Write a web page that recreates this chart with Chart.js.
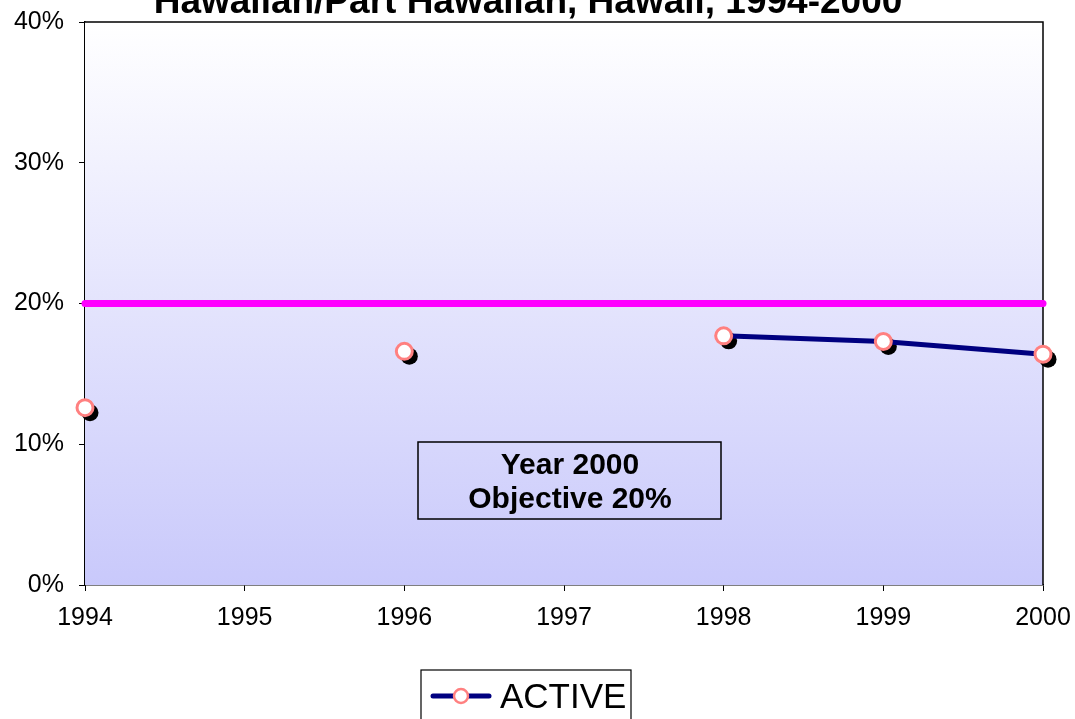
<!DOCTYPE html>
<html lang="en">
<head>
  <meta charset="UTF-8">
  <title>Hawaiian/Part Hawaiian, Hawaii, 1994-2000</title>
  <script src="https://cdn.jsdelivr.net/npm/chart.js"></script>
  <style>
    html, body { margin: 0; padding: 0; background: #fff; }
    #wrap { width: 1075px; height: 719px; }
  </style>
</head>
<body>
  <div id="wrap"><canvas id="chart" width="1075" height="719"></canvas></div>

  <script>
    // data
    const years = ['1994', '1995', '1996', '1997', '1998', '1999', '2000'];
    const active = [12.6, null, 16.6, null, 17.7, 17.3, 16.4];
    const objective = [20, 20, 20, 20, 20, 20, 20];
    const titleText = 'Hawaiian/Part Hawaiian, Hawaii, 1994-2000';
    const noteLines = ['Year 2000', 'Objective 20%'];
    const legendLabel = 'ACTIVE';

    const FONT = 'Arial, "Liberation Sans", sans-serif';

    // gradient plot background + top/right border
    const plotBg = {
      id: 'plotBg',
      beforeDatasetsDraw(chart) {
        const { ctx, chartArea: a } = chart;
        const g = ctx.createLinearGradient(0, a.top, 0, a.bottom);
        g.addColorStop(0, '#ffffff');
        g.addColorStop(1, '#c9c9fb');
        ctx.save();
        ctx.fillStyle = g;
        ctx.fillRect(a.left, a.top, a.right - a.left, a.bottom - a.top);
        ctx.strokeStyle = '#000';
        ctx.lineWidth = 1.5;
        ctx.beginPath();
        ctx.moveTo(a.left, a.top);
        ctx.lineTo(a.right, a.top);
        ctx.lineTo(a.right, a.bottom);
        ctx.stroke();
        ctx.restore();
      }
    };

    // black drop shadow behind the ACTIVE markers
    const markerShadow = {
      id: 'markerShadow',
      beforeDatasetDraw(chart, args) {
        if (args.index !== 1) return;
        const { ctx } = chart;
        const meta = chart.getDatasetMeta(1);
        ctx.save();
        ctx.fillStyle = '#000';
        meta.data.forEach((pt, i) => {
          if (active[i] == null) return;
          ctx.beginPath();
          ctx.arc(pt.x + 5, pt.y + 5, 8.5, 0, Math.PI * 2);
          ctx.fill();
        });
        ctx.restore();
      }
    };

    // title, note box and legend box
    const extras = {
      id: 'extras',
      afterDraw(chart) {
        const { ctx } = chart;
        ctx.save();
        ctx.fillStyle = '#000';
        ctx.textAlign = 'center';
        ctx.textBaseline = 'alphabetic';
        ctx.font = 'bold 37px ' + FONT;
        ctx.fillText(titleText, 528, 13);

        // note box
        ctx.strokeStyle = '#000';
        ctx.lineWidth = 1.5;
        ctx.strokeRect(418, 442, 303, 77);
        ctx.font = 'bold 30px ' + FONT;
        ctx.textBaseline = 'middle';
        ctx.fillText(noteLines[0], 570, 466);
        ctx.fillText(noteLines[1], 570, 500);

        // legend box
        ctx.lineWidth = 1.2;
        ctx.strokeRect(421, 670, 210, 60);
        ctx.strokeStyle = '#000080';
        ctx.lineWidth = 5;
        ctx.lineCap = 'round';
        ctx.beginPath();
        ctx.moveTo(433, 696);
        ctx.lineTo(489, 696);
        ctx.stroke();
        ctx.beginPath();
        ctx.arc(461, 696, 7, 0, Math.PI * 2);
        ctx.fillStyle = '#fff';
        ctx.fill();
        ctx.strokeStyle = '#ff8080';
        ctx.lineWidth = 2.5;
        ctx.stroke();
        ctx.fillStyle = '#000';
        ctx.textAlign = 'left';
        ctx.font = '35px ' + FONT;
        ctx.fillText(legendLabel, 500, 698);
        ctx.restore();
      }
    };

    new Chart(document.getElementById('chart'), {
      type: 'line',
      data: {
        labels: years,
        datasets: [
          {
            label: 'Objective',
            data: objective,
            borderColor: '#ff00ff',
            borderWidth: 7,
            borderCapStyle: 'round',
            pointRadius: 0,
            pointHoverRadius: 0,
            fill: false,
            tension: 0,
            clip: false
          },
          {
            label: legendLabel,
            data: active,
            borderColor: '#000080',
            borderWidth: 5,
            backgroundColor: '#ffffff',
            pointBackgroundColor: '#ffffff',
            pointBorderColor: '#ff8080',
            pointBorderWidth: 3,
            pointRadius: 8,
            spanGaps: false,
            fill: false,
            tension: 0,
            clip: false
          }
        ]
      },
      options: {
        responsive: false,
        animation: false,
        layout: { padding: { left: 0, right: 32, top: 22, bottom: 0 } },
        plugins: {
          legend: { display: false },
          title: { display: false },
          tooltip: { enabled: false }
        },
        scales: {
          x: {
            offset: false,
            grid: { drawOnChartArea: false, drawTicks: true, tickLength: 6, color: '#000' },
            border: { display: true, color: '#000', width: 1.5 },
            ticks: { color: '#000', font: { family: FONT, size: 25 }, padding: 12, maxRotation: 0, autoSkip: false },
            afterFit(scale) {
              scale.height = 134;
              scale.paddingLeft = 0;
              scale.paddingRight = 0;
            }
          },
          y: {
            min: 0,
            max: 40,
            grid: { drawOnChartArea: false, drawTicks: true, tickLength: 6, color: '#000' },
            border: { display: true, color: '#000', width: 1.5 },
            ticks: {
              stepSize: 10,
              color: '#000',
              padding: 15,
              font: { family: FONT, size: 25 },
              callback: v => v + '%'
            },
            afterFit(scale) {
              scale.width = 85;
              scale.paddingTop = 0;
              scale.paddingBottom = 0;
            }
          }
        }
      },
      plugins: [plotBg, markerShadow, extras]
    });
  </script>
</body>
</html>
